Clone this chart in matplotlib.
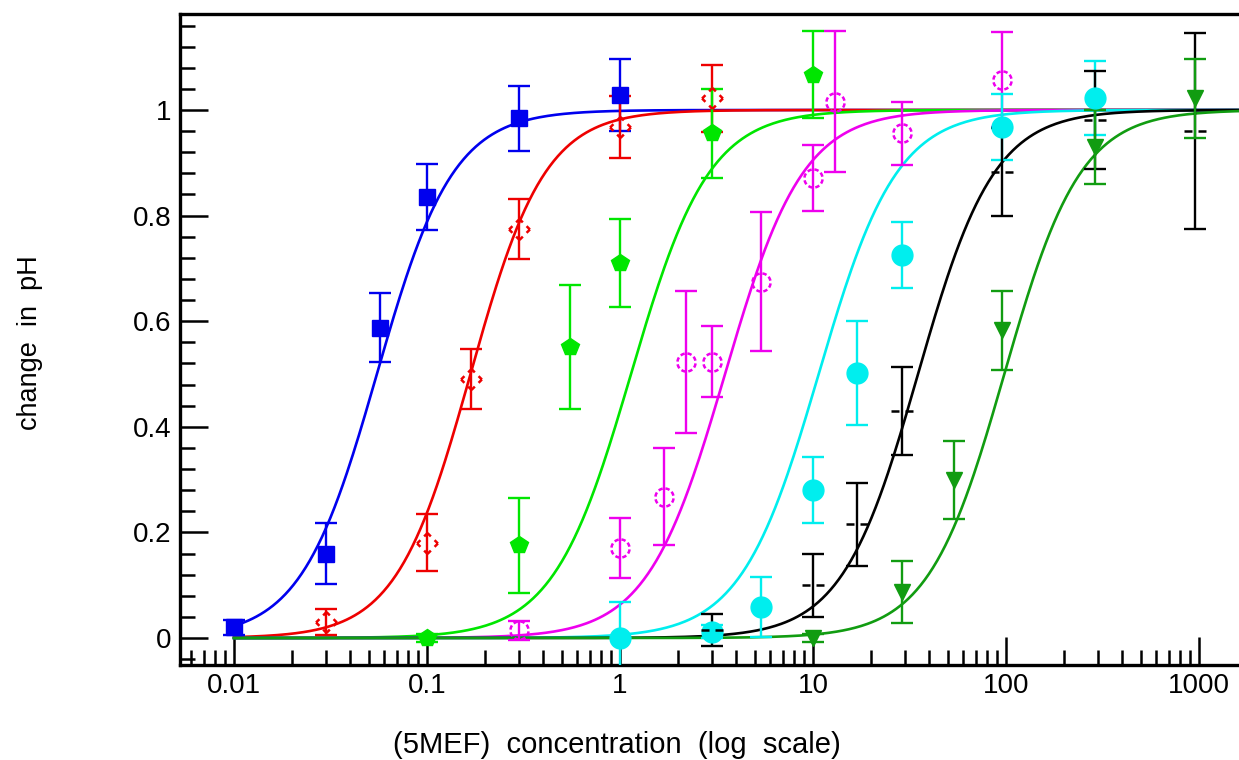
import matplotlib

matplotlib.use("Agg")

import matplotlib.pyplot as plt
import numpy as np
from matplotlib.path import Path
from matplotlib.ticker import (FixedFormatter, FixedLocator, LogLocator,
                               MultipleLocator, NullFormatter)

# measured points: concentration, change in pH, error
conc_blue = [0.01, 0.03, 0.057, 0.1, 0.3, 1]
ph_blue = [0.02, 0.16, 0.588, 0.835, 0.984, 1.028]
err_blue = [0.015, 0.058, 0.065, 0.062, 0.062, 0.068]

conc_red = [0.03, 0.1, 0.17, 0.3, 1, 3]
ph_red = [0.03, 0.18, 0.49, 0.775, 0.968, 1.022]
err_red = [0.025, 0.054, 0.057, 0.057, 0.058, 0.064]

conc_green = [0.1, 0.3, 0.55, 1, 3, 10]
ph_green = [0.0, 0.176, 0.551, 0.71, 0.956, 1.067]
err_green = [0.008, 0.09, 0.117, 0.083, 0.084, 0.082]

conc_magenta = [0.3, 1, 1.7, 2.2, 3, 5.4, 10, 13, 29, 95]
ph_magenta = [0.015, 0.17, 0.268, 0.523, 0.523, 0.675, 0.871, 1.016, 0.956, 1.057]
err_magenta = [0.018, 0.057, 0.092, 0.134, 0.067, 0.131, 0.063, 0.133, 0.06, 0.09]

conc_cyan = [1, 3, 5.4, 10, 17, 29, 95, 290]
ph_cyan = [0.0, 0.012, 0.059, 0.28, 0.502, 0.725, 0.968, 1.023]
err_cyan = [0.068, 0.012, 0.057, 0.062, 0.099, 0.062, 0.063, 0.07]

conc_black = [3, 10, 17, 29, 95, 290, 950]
ph_black = [0.015, 0.1, 0.215, 0.43, 0.882, 0.981, 0.96]
err_black = [0.03, 0.06, 0.078, 0.083, 0.083, 0.092, 0.185]

conc_dkgreen = [10, 29, 54, 95, 290, 950]
ph_dkgreen = [0.0, 0.087, 0.3, 0.583, 0.93, 1.022]
err_dkgreen = [0.008, 0.058, 0.074, 0.075, 0.07, 0.075]

# fitted dose-response curves (EC50, Hill slope), same order as the series
ec50 = [0.055, 0.168, 1.14, 3.5, 10.7, 35, 98]
hill = [2.2, 2.25, 2.15, 2.15, 2.15, 2.2, 2.2]

x_ticks = [0.01, 0.1, 1, 10, 100, 1000]
x_tick_labels = ["0.01", "0.1", "1", "10", "100", "1000"]
y_ticks = [0, 0.2, 0.4, 0.6, 0.8, 1.0]
y_tick_labels = ["0", "0.2", "0.4", "0.6", "0.8", "1"]

FONT = ["Liberation Sans", "DejaVu Sans"]


def dashed_ring(n=8, frac=0.62):
    verts, codes = [], []
    step = 2 * np.pi / n
    for k in range(n):
        a = np.linspace(k * step + 0.2, k * step + 0.2 + frac * step, 6)
        verts.extend(zip(np.cos(a), np.sin(a)))
        codes += [Path.MOVETO] + [Path.LINETO] * 5
    return Path(verts, codes)


def dashed_diamond():
    corners = [(0, 1), (1, 0), (0, -1), (-1, 0), (0, 1)]
    verts, codes = [], []
    for (x0, y0), (x1, y1) in zip(corners[:-1], corners[1:]):
        for t0, t1 in ((0.0, 0.32), (0.68, 1.0)):
            verts += [(x0 + (x1 - x0) * t0, y0 + (y1 - y0) * t0),
                      (x0 + (x1 - x0) * t1, y0 + (y1 - y0) * t1)]
            codes += [Path.MOVETO, Path.LINETO]
    return Path(verts, codes)


def split_dash():
    return Path([(-1, 0), (-0.3, 0), (0.3, 0), (1, 0)],
                [Path.MOVETO, Path.LINETO, Path.MOVETO, Path.LINETO])


series = [
    (conc_blue, ph_blue, err_blue, "#0000ee", "s", 11, True),
    (conc_red, ph_red, err_red, "#ee0000", dashed_diamond(), 15, False),
    (conc_green, ph_green, err_green, "#00e600", "p", 13, True),
    (conc_magenta, ph_magenta, err_magenta, "#ee00ee", dashed_ring(), 13, False),
    (conc_cyan, ph_cyan, err_cyan, "#00eeee", "o", 15, True),
    (conc_black, ph_black, err_black, "#000000", split_dash(), 16, False),
    (conc_dkgreen, ph_dkgreen, err_dkgreen, "#119c11", "v", 12, True),
]

fig = plt.figure(figsize=(12.39, 7.6), dpi=100, facecolor="white")
ax = fig.add_axes([180 / 1239, 95 / 760, 1 - 180 / 1239, 651 / 760])

x_fit = np.logspace(-2, 3.3, 500)
for (conc, ph, err, color, marker, size, filled), ec, n in zip(series, ec50, hill):
    ax.plot(x_fit, x_fit ** n / (x_fit ** n + ec ** n), color=color,
            linewidth=1.9, zorder=2)
for conc, ph, err, color, marker, size, filled in series:
    ax.errorbar(conc, ph, yerr=err, fmt="none", ecolor=color, elinewidth=1.7,
                capsize=8, capthick=1.7, zorder=3)
    ax.plot(conc, ph, linestyle="none", marker=marker, markersize=size,
            markerfacecolor=color if filled else "none", markeredgecolor=color,
            markeredgewidth=1.0 if filled else 1.8, zorder=4)

ax.set_xscale("log")
ax.set_xlim(0.00525, 1611)
ax.set_ylim(-0.0511, 1.1818)

ax.xaxis.set_major_locator(FixedLocator(x_ticks))
ax.xaxis.set_major_formatter(FixedFormatter(x_tick_labels))
ax.xaxis.set_minor_locator(LogLocator(base=10, subs=np.arange(2, 10)))
ax.xaxis.set_minor_formatter(NullFormatter())
ax.yaxis.set_major_locator(FixedLocator(y_ticks))
ax.yaxis.set_major_formatter(FixedFormatter(y_tick_labels))
ax.yaxis.set_minor_locator(MultipleLocator(0.04))

ax.spines["right"].set_visible(False)
for side in ("left", "bottom", "top"):
    ax.spines[side].set_linewidth(2.4)
ax.tick_params(which="both", direction="in", top=False, right=False,
               color="black")
ax.tick_params(which="major", length=20, width=1.8, labelsize=20, pad=6)
ax.tick_params(which="minor", length=11, width=1.8)
for label in ax.get_xticklabels() + ax.get_yticklabels():
    label.set_family(FONT)

fig.text(617 / 1239, 1 - 745 / 760, "(5MEF)  concentration  (log  scale)",
         ha="center", va="center", fontsize=21, family=FONT)
fig.text(30 / 1239, 1 - 343 / 760, "change  in  pH", rotation=90,
         ha="center", va="center", fontsize=19.5, family=FONT)

fig.savefig("out.png", dpi=100)
